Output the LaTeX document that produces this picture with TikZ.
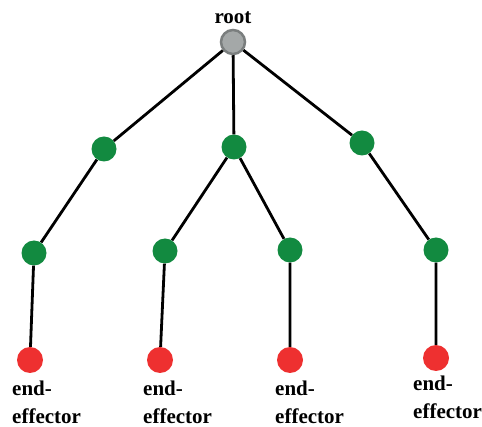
\documentclass[tikz,border=0pt]{standalone}
\usepackage{fontspec}
\newfontfamily\lblfont{Liberation Serif}
\definecolor{jointgreen}{HTML}{128A40}
\definecolor{effred}{HTML}{EE3030}
\definecolor{rootgray}{HTML}{A4A8A8}
\definecolor{rootedge}{HTML}{7A7E7E}
\begin{document}
\begin{tikzpicture}[x=1pt,y=-1pt,
  joint/.style={circle,fill=jointgreen,minimum size=25pt,inner sep=0pt},
  eff/.style={circle,fill=effred,minimum size=26pt,inner sep=0pt},
  rootnode/.style={circle,fill=rootgray,draw=rootedge,line width=2.5pt,minimum size=24pt,inner sep=0pt},
  link/.style={line width=2.8pt,black},
  lbl/.style={anchor=north west,align=left,inner sep=0pt,font=\lblfont\bfseries\fontsize{21}{27.5}\selectfont}]
\useasboundingbox (0,0) rectangle (482,427);
\node[lbl,anchor=south] (rl) at (233,24) {root};
\node[rootnode] (r) at (233,42) {};
\node[joint] (a1) at (104,149) {};
\node[joint] (b1) at (234,147) {};
\node[joint] (c1) at (362,143) {};
\node[joint] (a2) at (34,253) {};
\node[joint] (b2) at (165,251) {};
\node[joint] (b3) at (290,250) {};
\node[joint] (c2) at (436,250) {};
\node[eff] (ea) at (30,360) {};
\node[eff] (eb) at (160,360) {};
\node[eff] (ec) at (290,360) {};
\node[eff] (ed) at (436,358) {};
\draw[link] (r) -- (a1) (r) -- (b1) (r) -- (c1)
  (a1) -- (a2) (b1) -- (b2) (b1) -- (b3) (c1) -- (c2)
  (a2) -- (ea) (b2) -- (eb) (b3) -- (ec) (c2) -- (ed);
\node[lbl] (la) at (12,381) {end-\\effector};
\node[lbl] (lb) at (143,381) {end-\\effector};
\node[lbl] (lc) at (275,381) {end-\\effector};
\node[lbl] (ld) at (413,376) {end-\\effector};
\end{tikzpicture}
\end{document}
